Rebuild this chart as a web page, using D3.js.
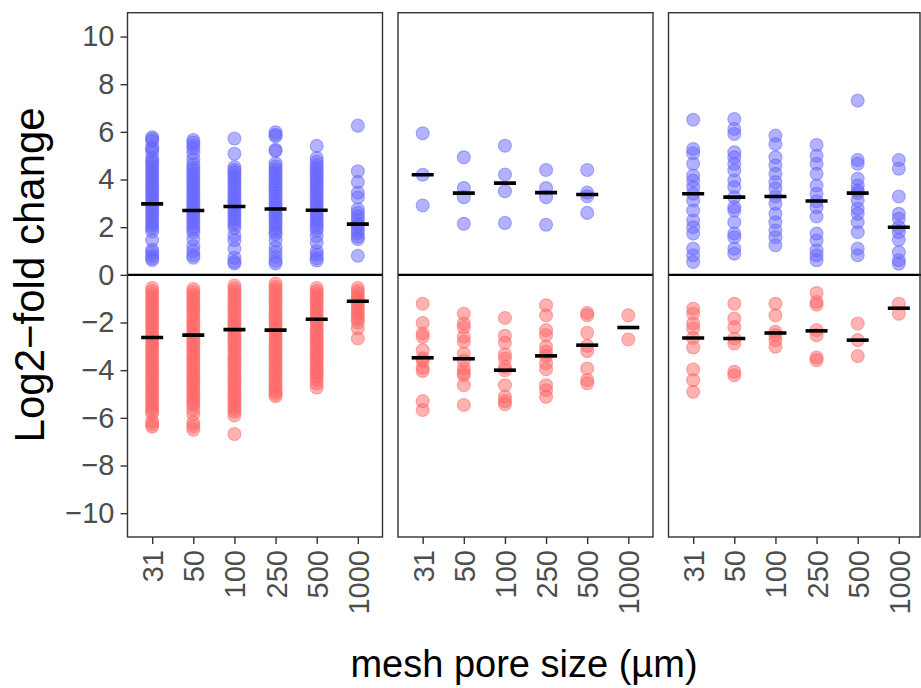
<!DOCTYPE html>
<html lang="en">
<head>
  <meta charset="utf-8">
  <title>Log2-fold change by mesh pore size</title>
  <script src="https://d3js.org/d3.v7.min.js"></script>
  <style>
    body { margin: 0; background: #fff; }
    text { font-family: "Liberation Sans", Arial, Helvetica, sans-serif; }
  </style>
</head>
<body>
  <svg width="921" height="688"></svg>
  <script>
    // mesh pore sizes (µm), one column per size in every panel
    const sizes = ["31", "50", "100", "250", "500", "1000"];
    const yTicks = [-10, -8, -6, -4, -2, 0, 2, 4, 6, 8, 10];

    // panel 1, up-regulated (blue)
    const p1Up = [
      [5.77, 5.7, 5.62, 5.35, 5.27, 5.15, 4.9, 4.78, 4.68, 4.55, 4.44, 4.3, 4.2, 4.08, 3.96, 3.85, 3.72, 3.6, 3.5, 3.38, 3.25, 3.14, 3.02, 2.9, 2.78, 2.66, 2.55, 2.42, 2.3, 2.18, 2.06, 1.95, 1.82, 1.45, 1.05, 0.95, 0.8, 0.7, 0.62],
      [5.66, 5.55, 5.42, 5.3, 5.1, 4.85, 4.65, 4.5, 4.38, 4.25, 4.12, 4.0, 3.88, 3.75, 3.62, 3.5, 3.38, 3.25, 3.12, 3.0, 2.88, 2.76, 2.64, 2.52, 2.4, 2.28, 2.15, 2.02, 1.9, 1.78, 1.5, 1.2, 1.0, 0.82, 0.72],
      [5.72, 5.08, 4.52, 4.4, 4.3, 4.18, 4.05, 3.94, 3.82, 3.7, 3.58, 3.45, 3.32, 3.2, 3.08, 2.96, 2.84, 2.72, 2.6, 2.48, 2.35, 2.22, 2.1, 1.97, 1.65, 1.45, 1.1, 0.72, 0.55, 0.48],
      [5.98, 5.88, 5.82, 5.25, 5.2, 4.68, 4.55, 4.42, 4.3, 4.18, 4.05, 3.92, 3.8, 3.68, 3.55, 3.42, 3.3, 3.18, 3.05, 2.92, 2.8, 2.68, 2.55, 2.42, 2.3, 2.18, 2.05, 1.92, 1.8, 1.7, 1.45, 1.15, 0.95, 0.75, 0.58, 0.48],
      [5.41, 4.9, 4.75, 4.6, 4.48, 4.35, 4.22, 4.1, 3.98, 3.85, 3.72, 3.6, 3.48, 3.35, 3.22, 3.1, 2.98, 2.85, 2.72, 2.6, 2.48, 2.35, 2.22, 2.1, 1.98, 1.85, 1.62, 1.35, 1.0, 0.85, 0.7, 0.6],
      [6.26, 4.35, 3.9, 3.45, 3.25, 2.75, 2.6, 2.45, 2.3, 2.15, 2.05, 1.9, 1.75, 1.6, 1.5, 0.8]
    ];
    // panel 1, down-regulated (red)
    const p1Down = [
      [-0.55, -0.68, -0.8, -0.93, -1.05, -1.2, -1.33, -1.45, -1.6, -1.72, -1.85, -2.0, -2.12, -2.25, -2.4, -2.52, -2.65, -2.8, -2.92, -3.05, -3.2, -3.32, -3.45, -3.6, -3.72, -3.85, -4.0, -4.12, -4.25, -4.4, -4.52, -4.65, -4.8, -4.92, -5.05, -5.2, -5.32, -5.45, -5.6, -5.72, -5.82, -6.15, -6.28, -6.37],
      [-0.6, -0.72, -0.85, -0.98, -1.1, -1.24, -1.37, -1.5, -1.63, -1.76, -1.9, -2.03, -2.16, -2.3, -2.43, -2.56, -2.7, -2.83, -2.96, -3.1, -3.23, -3.36, -3.5, -3.63, -3.76, -3.9, -4.03, -4.16, -4.3, -4.43, -4.56, -4.7, -4.83, -4.96, -5.1, -5.23, -5.36, -5.46, -5.65, -5.85, -6.2, -6.35, -6.5],
      [-0.45, -0.58, -0.7, -0.83, -0.96, -1.1, -1.23, -1.36, -1.5, -1.63, -1.76, -1.9, -2.03, -2.16, -2.3, -2.43, -2.56, -2.7, -2.83, -2.96, -3.1, -3.23, -3.36, -3.5, -3.63, -3.76, -3.9, -4.03, -4.16, -4.3, -4.43, -4.56, -4.7, -4.83, -4.96, -5.1, -5.23, -5.36, -5.5, -5.62, -5.74, -5.9, -6.68],
      [-0.37, -0.5, -0.63, -0.76, -0.9, -1.03, -1.16, -1.3, -1.43, -1.56, -1.7, -1.83, -1.96, -2.1, -2.23, -2.36, -2.5, -2.63, -2.76, -2.9, -3.03, -3.16, -3.3, -3.43, -3.56, -3.7, -3.83, -3.96, -4.1, -4.23, -4.36, -4.5, -4.63, -4.76, -4.9, -5.0, -5.09],
      [-0.55, -0.68, -0.8, -0.93, -1.06, -1.2, -1.33, -1.46, -1.6, -1.73, -1.86, -2.0, -2.13, -2.26, -2.4, -2.53, -2.66, -2.8, -2.93, -3.06, -3.2, -3.33, -3.46, -3.6, -3.73, -3.86, -4.0, -4.13, -4.26, -4.4, -4.56, -4.73],
      [-0.55, -0.68, -0.8, -0.93, -1.06, -1.2, -1.33, -1.46, -1.6, -1.73, -1.86, -2.0, -2.25, -2.67]
    ];
    const p1UpMed = [2.98, 2.70, 2.87, 2.76, 2.71, 2.13];
    const p1DownMed = [-2.63, -2.53, -2.30, -2.32, -1.86, -1.11];

    // panel 2
    const p2Up = [
      [5.94, 4.2, 2.91],
      [4.93, 3.64, 3.26, 2.14],
      [5.42, 4.21, 3.51, 2.18],
      [4.4, 3.64, 3.26, 2.1],
      [4.4, 3.45, 3.3, 2.6],
      []
    ];
    const p2Down = [
      [-1.21, -2.02, -2.46, -2.6, -3.16, -3.5, -3.6, -3.9, -4.03, -5.3, -5.67],
      [-1.63, -2.04, -2.2, -2.6, -2.81, -3.3, -3.6, -3.93, -4.1, -4.21, -4.63, -5.46],
      [-1.81, -2.56, -2.85, -3.34, -3.51, -3.86, -4.0, -4.63, -5.11, -5.3, -5.43],
      [-1.28, -1.7, -2.32, -2.53, -3.02, -3.23, -3.4, -3.72, -3.96, -4.63, -4.84, -5.12],
      [-1.6, -1.7, -2.43, -2.98, -3.2, -3.93, -4.41, -4.55],
      [-1.7, -2.71]
    ];
    const p2UpMed = [4.20, 3.43, 3.85, 3.45, 3.37, null];
    const p2DownMed = [-3.48, -3.52, -4.00, -3.40, -2.95, -2.21];

    // panel 3
    const p3Up = [
      [6.51, 5.28, 5.1, 4.66, 4.17, 3.96, 3.68, 3.4, 3.12, 2.7, 2.28, 2.0, 1.73, 1.1, 0.82, 0.54],
      [6.54, 6.12, 5.91, 5.14, 4.93, 4.66, 4.38, 3.96, 3.68, 3.26, 2.84, 2.7, 2.21, 1.73, 1.58, 1.1, 0.89],
      [5.84, 5.49, 4.93, 4.59, 4.24, 3.89, 3.62, 3.29, 2.98, 2.56, 2.21, 1.86, 1.58, 1.24],
      [5.45, 5.0, 4.66, 4.24, 3.75, 3.4, 3.09, 2.84, 2.45, 1.73, 1.44, 1.03, 0.82, 0.61],
      [7.31, 4.82, 4.66, 4.03, 3.75, 3.54, 3.43, 3.12, 2.77, 2.56, 2.21, 1.79, 1.1, 0.82],
      [4.82, 4.45, 3.29, 2.56, 2.35, 2.0, 1.79, 1.47, 0.95, 0.61, 0.47]
    ];
    const p3Down = [
      [-1.42, -1.63, -2.04, -2.25, -2.65, -3.05, -3.97, -4.42, -4.91],
      [-1.21, -1.83, -2.19, -2.67, -2.88, -4.07, -4.21],
      [-1.21, -1.7, -2.39, -2.53, -2.74, -3.02],
      [-0.76, -1.14, -1.25, -2.32, -2.53, -3.47, -3.58],
      [-2.04, -2.74, -3.41],
      [-1.21, -1.63]
    ];
    const p3UpMed = [3.40, 3.26, 3.29, 3.10, 3.43, 2.00];
    const p3DownMed = [-2.65, -2.67, -2.44, -2.35, -2.74, -1.40];

    const panels = [
      { up: p1Up, down: p1Down, upMed: p1UpMed, downMed: p1DownMed },
      { up: p2Up, down: p2Down, upMed: p2UpMed, downMed: p2DownMed },
      { up: p3Up, down: p3Down, upMed: p3UpMed, downMed: p3DownMed }
    ];

    const svg = d3.select("svg");
    const W = 921;
    const yTop = 12.7, yBottom = 537;
    const panelLeft = [127.5, 398, 668.5];
    const panelW = 255;

    const y = d3.scaleLinear().domain([-11, 11]).range([yBottom, yTop]);

    const blue = "#6666ff", red = "#ff6666";

    panels.forEach((p, i) => {
      const left = panelLeft[i];
      const x = d3.scalePoint().domain(sizes).range([left, left + panelW]).padding(0.6);
      const g = svg.append("g");

      const clipId = "clip" + i;
      svg.append("clipPath").attr("id", clipId)
        .append("rect").attr("x", left).attr("y", yTop)
        .attr("width", panelW).attr("height", yBottom - yTop);

      const plot = g.append("g").attr("clip-path", `url(#${clipId})`);

      // points
      const pts = [];
      sizes.forEach((s, j) => {
        p.up[j].forEach(v => pts.push({ s, v, c: blue }));
        p.down[j].forEach(v => pts.push({ s, v, c: red }));
      });
      plot.selectAll("circle").data(pts).enter().append("circle")
        .attr("cx", d => x(d.s))
        .attr("cy", d => y(d.v))
        .attr("r", 6.5)
        .attr("fill", d => d.c).attr("fill-opacity", 0.5)
        .attr("stroke", d => d.c).attr("stroke-opacity", 0.5)
        .attr("stroke-width", 1.1);

      // zero line
      plot.append("line")
        .attr("x1", left).attr("x2", left + panelW)
        .attr("y1", y(0)).attr("y2", y(0))
        .attr("stroke", "#000").attr("stroke-width", 2.2);

      // medians
      const meds = [];
      sizes.forEach((s, j) => {
        if (p.upMed[j] != null) meds.push({ s, v: p.upMed[j] });
        if (p.downMed[j] != null) meds.push({ s, v: p.downMed[j] });
      });
      plot.selectAll("line.med").data(meds).enter().append("line")
        .attr("class", "med")
        .attr("x1", d => x(d.s) - 11).attr("x2", d => x(d.s) + 11)
        .attr("y1", d => y(d.v)).attr("y2", d => y(d.v))
        .attr("stroke", "#000").attr("stroke-width", 3.6);

      // border
      const bw = Math.min(panelW, W - 1 - left);
      g.append("rect")
        .attr("x", left).attr("y", yTop)
        .attr("width", bw).attr("height", yBottom - yTop)
        .attr("fill", "none").attr("stroke", "#333").attr("stroke-width", 1.4);

      // x axis
      const xa = g.append("g").attr("transform", `translate(0,${yBottom})`)
        .call(d3.axisBottom(x).tickSize(7).tickPadding(0));
      xa.select(".domain").remove();
      xa.selectAll(".tick line").attr("stroke", "#333").attr("stroke-width", 1.4);
      xa.selectAll(".tick text")
        .attr("transform", "rotate(-90)")
        .attr("x", -13).attr("y", 0).attr("dy", "0.36em")
        .attr("text-anchor", "end")
        .attr("fill", "#4d4d4d")
        .style("font-size", "29px");
    });

    // y axis
    const ya = svg.append("g").attr("transform", `translate(${panelLeft[0]},0)`)
      .call(d3.axisLeft(y).tickValues(yTicks).tickSize(7).tickPadding(6));
    ya.select(".domain").remove();
    ya.selectAll(".tick line").attr("stroke", "#333").attr("stroke-width", 1.4);
    ya.selectAll(".tick text").attr("fill", "#4d4d4d").style("font-size", "29px");

    // titles
    svg.append("text")
      .attr("x", 524).attr("y", 677)
      .attr("text-anchor", "middle")
      .style("font-size", "38px").attr("fill", "#000")
      .text("mesh pore size (µm)");

    svg.append("text")
      .attr("transform", `translate(44,${(yTop + yBottom) / 2}) rotate(-90)`)
      .attr("text-anchor", "middle")
      .style("font-size", "42px").attr("fill", "#000")
      .text("Log2−fold change");
  </script>
</body>
</html>
